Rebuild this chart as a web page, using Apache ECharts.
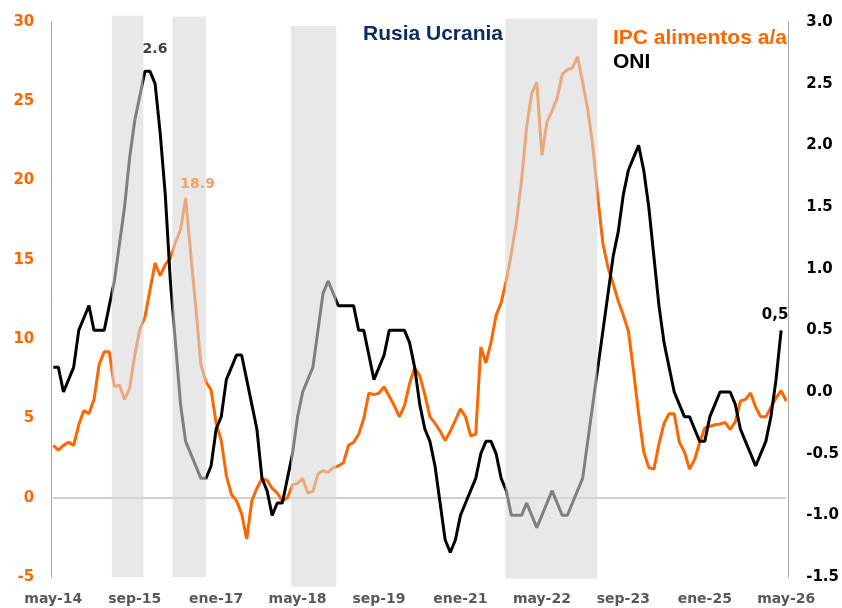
<!DOCTYPE html>
<html>
<head>
<meta charset="utf-8">
<script src="https://cdn.jsdelivr.net/npm/echarts@6/dist/echarts.min.js"></script>
<style>
html,body{margin:0;padding:0;background:#ffffff;}
#chart{width:842px;height:608px;}
</style>
</head>
<body>
<div id="chart"></div>
<script>
// ---------------- DATA ----------------
// x = month index counted from may-14 (0) to may-26 (144)
const TICK_LABELS = ['may-14','sep-15','ene-17','may-18','sep-19','ene-21','may-22','sep-23','ene-25','may-26'];
const TICK_STEP_MONTHS = 16;
const LAST_MONTH_INDEX = 144;

// ONI (right axis), may-14 .. abr-26
const ONI = [
  0.2, 0.2, 0.0, 0.1, 0.2, 0.5, 0.6, 0.7,
  0.5, 0.5, 0.5, 0.7, 0.9, 1.2, 1.5, 1.9, 2.2, 2.4, 2.6, 2.6,
  2.5, 2.1, 1.6, 0.9, 0.4, -0.1, -0.4, -0.5, -0.6, -0.7, -0.7, -0.6,
  -0.3, -0.2, 0.1, 0.2, 0.3, 0.3, 0.1, -0.1, -0.3, -0.7, -0.8, -1.0,
  -0.9, -0.9, -0.7, -0.5, -0.2, 0.0, 0.1, 0.2, 0.5, 0.8, 0.9, 0.8,
  0.7, 0.7, 0.7, 0.7, 0.5, 0.5, 0.3, 0.1, 0.2, 0.3, 0.5, 0.5,
  0.5, 0.5, 0.4, 0.2, -0.1, -0.3, -0.4, -0.6, -0.9, -1.2, -1.3, -1.2,
  -1.0, -0.9, -0.8, -0.7, -0.5, -0.4, -0.4, -0.5, -0.7, -0.8, -1.0, -1.0,
  -1.0, -0.9, -1.0, -1.1, -1.0, -0.9, -0.8, -0.9, -1.0, -1.0, -0.9, -0.8,
  -0.7, -0.4, -0.1, 0.2, 0.5, 0.8, 1.1, 1.3, 1.6, 1.8, 1.9, 2.0,
  1.8, 1.5, 1.1, 0.7, 0.4, 0.2, 0.0, -0.1, -0.2, -0.2, -0.3, -0.4,
  -0.4, -0.2, -0.1, 0.0, 0.0, 0.0, -0.1, -0.3, -0.4, -0.5, -0.6, -0.5,
  -0.4, -0.2, 0.1, 0.5
];

// IPC alimentos a/a (left axis), may-14 .. may-26
const IPC_ALIMENTOS = [
  3.3, 3.0, 3.3, 3.5, 3.3, 4.6, 5.5, 5.3,
  6.2, 8.4, 9.2, 9.2, 7.0, 7.1, 6.2, 6.9, 9.0, 10.6, 11.4, 13.1,
  14.8, 14.0, 14.7, 15.1, 16.1, 16.9, 18.9, 15.4, 12.0, 8.4, 7.3, 6.8,
  4.7, 3.6, 1.4, 0.2, -0.2, -1.0, -2.6, -0.2, 0.6, 1.2, 1.1, 0.6,
  0.3, -0.2, 0.0, 0.8, 0.9, 1.2, 0.3, 0.4, 1.5, 1.7, 1.6, 1.9,
  2.0, 2.2, 3.3, 3.5, 4.0, 5.0, 6.6, 6.5, 6.6, 7.0, 6.4, 5.8,
  5.1, 5.8, 7.2, 8.2, 7.7, 6.5, 5.1, 4.7, 4.2, 3.6, 4.2, 4.9,
  5.6, 5.1, 3.9, 4.0, 9.5, 8.5, 9.8, 11.5, 12.3, 13.7, 15.4, 17.4,
  20.0, 23.4, 25.5, 26.2, 21.6, 23.7, 24.4, 25.2, 26.7, 27.0, 27.1, 27.8,
  26.2, 24.5, 22.2, 18.9, 16.0, 14.5, 13.5, 12.4, 11.5, 10.5, 8.0, 5.3,
  2.9, 1.9, 1.8, 3.4, 4.7, 5.3, 5.3, 3.5, 2.9, 1.8, 2.4, 3.5,
  4.4, 4.5, 4.6, 4.65, 4.75, 4.3, 4.8, 6.1, 6.2, 6.6, 5.7, 5.1,
  5.1, 5.7, 6.3, 6.75, 6.1
];

// shaded periods (start / end month index)
const SHADED_PERIODS = [[11.5, 17.7], [23.4, 30.0], [46.7, 55.6], [88.8, 106.9]];

// labelled points
const ONI_PEAK_LABEL = { index: 19, text: '2.6' };
const IPC_PEAK_LABEL = { index: 26, text: '18.9' };
const ONI_LAST_LABEL = { index: 143, text: '0,5' };

// ---------------- CHART ----------------
const ORANGE = '#FF6600';
const TICK_FONT = '"DejaVu Sans", Verdana, sans-serif';
const TITLE_FONT = '"Liberation Sans", Arial, sans-serif';
const BAND_FILL = 'rgba(216,216,216,0.59)';
// vertical reach of each shaded band (left-axis units)
const BAND_REACH = [[30.4, -5.0], [30.35, -5.0], [29.75, -5.6], [30.2, -5.1]];

const ipcData = IPC_ALIMENTOS.map((v, i) => [i, v]);
const oniData = ONI.map((v, i) => [i, v]);
const bandData = SHADED_PERIODS.map((p, k) => [p[0], p[1], BAND_REACH[k][0], BAND_REACH[k][1]]);

function pointLabel(lbl, series, color, size, offset) {
  return {
    name: lbl.text,
    coord: [lbl.index, series[lbl.index]],
    symbol: 'circle',
    symbolSize: 0,
    itemStyle: { color: 'rgba(0,0,0,0)' },
    label: {
      show: true,
      position: 'inside',
      offset: offset,
      formatter: p => p.name,
      color: color,
      fontFamily: TICK_FONT,
      fontWeight: 'bold',
      fontSize: size
    }
  };
}

const chart = echarts.init(document.getElementById('chart'), null, { renderer: 'canvas' });

const option = {
  animation: false,
  backgroundColor: '#ffffff',
  grid: { left: 53.3, right: 51.4, top: 22, bottom: 31, containLabel: false },
  xAxis: {
    type: 'value',
    min: 0,
    max: LAST_MONTH_INDEX,
    interval: TICK_STEP_MONTHS,
    axisLine: { show: false },
    axisTick: { show: false },
    splitLine: { show: false },
    axisLabel: {
      margin: 15,
      color: '#595959',
      fontFamily: TICK_FONT,
      fontWeight: 'bold',
      fontSize: 14,
      formatter: v => TICK_LABELS[Math.round(v / TICK_STEP_MONTHS)] || ''
    }
  },
  yAxis: [
    {
      type: 'value',
      position: 'left',
      min: -5, max: 30, interval: 5,
      offset: 2,
      axisLine: { show: true, onZero: false, lineStyle: { color: '#A6A6A6', width: 1 } },
      axisTick: { show: false },
      splitLine: { show: false },
      axisLabel: {
        margin: 17,
        color: ORANGE,
        fontFamily: TICK_FONT,
        fontWeight: 'bold',
        fontSize: 15
      }
    },
    {
      type: 'value',
      position: 'right',
      min: -1.5, max: 3.0, interval: 0.5,
      offset: 2,
      axisLine: { show: true, onZero: false, lineStyle: { color: '#A6A6A6', width: 1 } },
      axisTick: { show: false },
      splitLine: { show: false },
      axisLabel: {
        margin: 18,
        color: '#000000',
        fontFamily: TICK_FONT,
        fontWeight: 'bold',
        fontSize: 15,
        formatter: v => v.toFixed(1)
      }
    }
  ],
  series: [
    {
      name: 'IPC alimentos a/a',
      type: 'line',
      yAxisIndex: 0,
      data: ipcData,
      showSymbol: false,
      symbol: 'none',
      z: 2,
      lineStyle: { color: ORANGE, width: 3 },
      itemStyle: { color: ORANGE },
      markLine: {
        silent: true,
        symbol: 'none',
        z: 1,
        label: { show: false },
        lineStyle: { color: '#BFBFBF', width: 1.5, type: 'solid' },
        data: [{ yAxis: 0 }]
      },
      markPoint: {
        silent: true,
        z: 6,
        data: [pointLabel(IPC_PEAK_LABEL, IPC_ALIMENTOS, '#F2A06A', 14, [12, -14])]
      }
    },
    {
      name: 'ONI',
      type: 'line',
      yAxisIndex: 1,
      data: oniData,
      showSymbol: false,
      symbol: 'none',
      z: 2,
      lineStyle: { color: '#000000', width: 3 },
      itemStyle: { color: '#000000' },
      markPoint: {
        silent: true,
        z: 6,
        data: [
          pointLabel(ONI_PEAK_LABEL, ONI, '#404040', 14, [5, -21.5]),
          pointLabel(ONI_LAST_LABEL, ONI, '#000000', 15, [-6, -15])
        ]
      }
    },
    {
      name: 'bands',
      type: 'custom',
      yAxisIndex: 0,
      clip: false,
      silent: true,
      z: 3,
      data: bandData,
      encode: { x: [0, 1], y: [2, 3] },
      renderItem: function (params, api) {
        const p0 = api.coord([api.value(0), api.value(2)]);
        const p1 = api.coord([api.value(1), api.value(3)]);
        return {
          type: 'rect',
          shape: { x: p0[0], y: p0[1], width: p1[0] - p0[0], height: p1[1] - p0[1] },
          style: { fill: BAND_FILL }
        };
      }
    }
  ],
  graphic: [
    {
      type: 'text', x: 433, y: 34, z: 10,
      style: { text: 'Rusia Ucrania', fill: '#0B2A66', font: 'bold 21px ' + TITLE_FONT, align: 'center', verticalAlign: 'middle' }
    },
    {
      type: 'text', x: 613, y: 38.5, z: 10,
      style: { text: 'IPC alimentos a/a', fill: ORANGE, font: 'bold 21px ' + TITLE_FONT, align: 'left', verticalAlign: 'middle' }
    },
    {
      type: 'text', x: 613, y: 62.5, z: 10,
      style: { text: 'ONI', fill: '#000000', font: 'bold 21px ' + TITLE_FONT, align: 'left', verticalAlign: 'middle' }
    }
  ]
};

chart.setOption(option);
</script>
</body>
</html>
